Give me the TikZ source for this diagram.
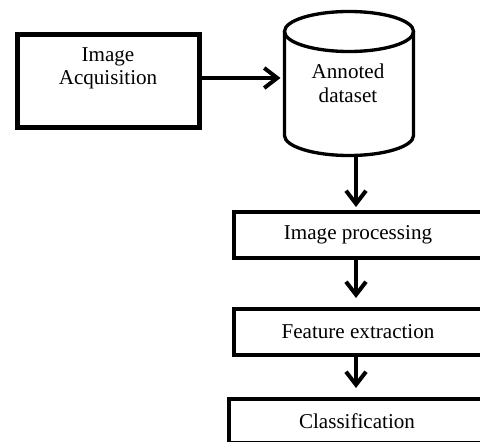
\documentclass[tikz,border=0pt]{standalone}
\usepackage{fontspec}
\setmainfont{Liberation Serif}
\usetikzlibrary{positioning,arrows.meta,calc}

\begin{document}
\begin{tikzpicture}[x=0.3mm, y=-0.3mm,
    font=\fontsize{18}{20}\selectfont,
    stage/.style={draw, line width=1.2mm, minimum width=74.4mm, minimum height=13.8mm},
    flow/.style={-{Straight Barb[length=3.9mm, width=6mm, line width=1.2mm]}, line width=1.05mm}]
  \useasboundingbox (0,0) rectangle (480,442);
  \clip (0,0) rectangle (480,442);

  % Acquisition
  \node[draw, line width=1.5mm, minimum width=54.6mm, minimum height=27.9mm] (acq) at (108.5,81) {};
  \node[align=center] (acqtext) at (108,68.5) {Image\\Acquisition};

  % Dataset (cylinder)
  \draw[line width=1mm] (349,31.5) ellipse [x radius=19.35mm, y radius=6mm];
  \draw[line width=1mm] (284.5,31.5) -- (284.5,135.5)
    .. controls (284.5,146.5) and (313.4,155.5) .. (349,155.5)
    .. controls (384.6,155.5) and (413.5,146.5) .. (413.5,135.5) -- (413.5,31.5);
  \node[align=center] (data) at (348,83.5) {Annoted\\dataset};
  \coordinate (dleft) at (284.5,78);
  \coordinate (dbot) at (356,155);

  % Stages
  \node[stage] (proc) at (358,235) {Image processing};
  \node[stage, below=14.1mm of proc] (feat) {Feature extraction};
  \node[stage, minimum width=76.8mm, minimum height=13.2mm] (cls) at (357,421) {Classification};

  % Arrows
  \draw[flow, shorten >=1.2mm] (acq.east |- dleft) -- (dleft);
  \draw[flow, shorten >=0.9mm] (dbot) -- (dbot |- proc.north);
  \draw[flow, shorten >=2.7mm] (proc.south -| dbot) -- (feat.north -| dbot);
  \draw[flow, shorten >=2.7mm] (feat.south -| dbot) -- (cls.north -| dbot);
\end{tikzpicture}
\end{document}
